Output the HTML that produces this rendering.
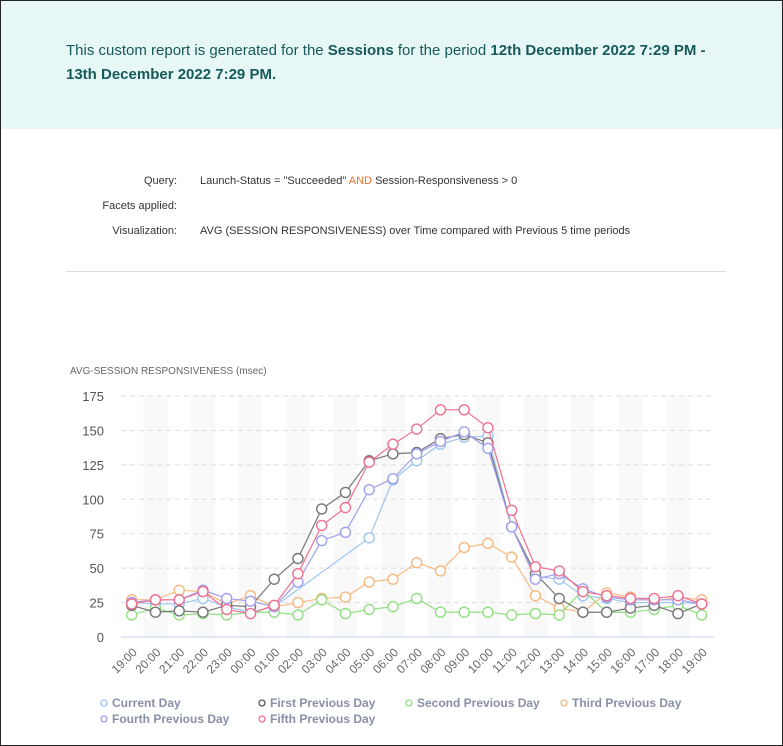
<!DOCTYPE html>
<html><head><meta charset="utf-8"><style>
body{margin:0;width:783px;height:746px;overflow:hidden;font-family:"Liberation Sans",sans-serif;background:#fff}
.wrap{position:absolute;left:0;top:0;width:781px;height:744px;border:1px solid #222;overflow:hidden}
.hdr{position:absolute;left:0;top:0;width:781px;height:128px;background:#e6f7f6}
.hdr p{position:absolute;left:65px;top:38px;margin:0;font-size:15px;line-height:24px;color:#165a5a;width:640px}
.q{position:absolute;font-size:11px;color:#333}
.l{right:605px;text-align:right;width:150px}
.v{left:199px}
</style></head><body><div class="wrap">
<div class="hdr"><p>This custom report is generated for the <b>Sessions</b> for the period <b>12th December 2022 7:29 PM -<br>13th December 2022 7:29 PM.</b></p></div>
<div class="q l" style="top:174px">Query:</div>
<div class="q v" style="top:174px">Launch-Status = "Succeeded" <span style="color:#e8702a">AND</span> Session-Responsiveness &gt; 0</div>
<div class="q l" style="top:199px">Facets applied:</div>
<div class="q l" style="top:224px">Visualization:</div>
<div class="q v" style="top:224px">AVG (SESSION RESPONSIVENESS) over Time compared with Previous 5 time periods</div>
<div style="position:absolute;left:65px;top:270px;width:660px;height:1px;background:#ddd"></div>
<svg id="c" width="783" height="746" style="position:absolute;left:0;top:0"></svg>
</div>
<script>
const s=document.getElementById('c');let h='';
const X=i=>130.7+i*23.75, Y=v=>636-v*1.377;
for(let i=1;i<24;i+=2)h+=`<rect x="${X(i)-12}" y="395" width="24" height="241" fill="#f9f9f9"/>`;
for(let v=0;v<=175;v+=25){h+=v?`<line x1="120" x2="713" y1="${Y(v)}" y2="${Y(v)}" stroke="#ddd" stroke-dasharray="5,4"/>`:`<line x1="120" x2="713" y1="636" y2="636" stroke="#c8d0ee"/>`;
h+=`<text x="103" y="${Y(v)+5}" text-anchor="end" font-size="13" fill="#555">${v}</text>`;}
h+=`<text x="69" y="373" font-size="10" fill="#666">AVG-SESSION RESPONSIVENESS (msec)</text>`;
const labs=['19:00','20:00','21:00','22:00','23:00','00:00','01:00','02:00','03:00','04:00','05:00','06:00','07:00','08:00','09:00','10:00','11:00','12:00','13:00','14:00','15:00','16:00','17:00','18:00','19:00'];
labs.forEach((t,i)=>h+=`<text transform="translate(${X(i)+6},652) rotate(-45)" text-anchor="end" font-size="12" fill="#666">${t}</text>`);
const S=[
['#9ec5f0',[25,24,24,28,22,18,22,null,null,null,72,114,128,140,145,146,80,44,42,30,28,25,25,25,24]],
['#f8b880',[27,27,34,33,24,30,22,25,28,29,40,42,54,48,65,68,58,30,21,18,32,29,26,29,27]],
['#90e080',[16,21,16,17,16,18,18,16,27,17,20,22,28,18,18,18,16,17,16,34,18,18,20,23,16]],
['#777777',[23,18,19,18,23,22,42,57,93,105,128,133,134,144,147,141,80,46,28,18,18,21,23,17,24]],
['#a0a0f0',[25,27,27,34,28,26,22,40,70,76,107,115,133,142,149,137,80,42,46,35,29,27,27,27,24]],
['#f07090',[24,27,27,33,20,17,23,46,81,94,127,140,151,165,165,152,92,51,48,33,30,28,28,30,24]]];
S.forEach(([c,d])=>{let p=d.map((v,i)=>v==null?null:[X(i),Y(v)]).filter(x=>x);
h+=`<polyline fill="none" stroke="${c}" stroke-width="1.2" points="${p.map(q=>q.join(',')).join(' ')}"/>`;
p.forEach(q=>h+=`<circle cx="${q[0]}" cy="${q[1]}" r="5" fill="#fff" stroke="${c}" stroke-width="1.4"/>`);});
const L=[['#9ec5f0','Current Day',100,706],['#555','First Previous Day',258,706],['#90e080','Second Previous Day',405,706],['#f8b880','Third Previous Day',560,706],['#a0a0f0','Fourth Previous Day',100,722],['#f07090','Fifth Previous Day',258,722]];
L.forEach(([c,t,x,y])=>h+=`<circle cx="${x+3}" cy="${y-4}" r="3" fill="#fff" stroke="${c}" stroke-width="1.3"/><text x="${x+11}" y="${y}" font-size="12" font-weight="bold" fill="#8890a8">${t}</text>`);
s.innerHTML=h;
</script></body></html>
